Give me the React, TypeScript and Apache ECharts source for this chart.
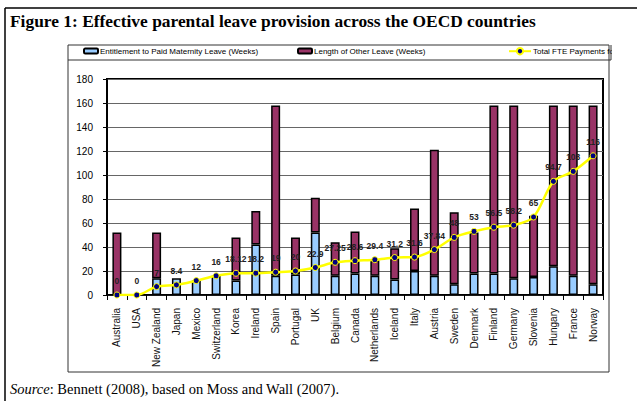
import React, { useEffect, useRef } from "react";
import * as echarts from "echarts";

const categories = [
  "Australia", "USA", "New Zealand", "Japan", "Mexico", "Switzerland", "Korea", "Ireland",
  "Spain", "Portugal", "UK", "Belgium", "Canada", "Netherlands", "Iceland", "Italy",
  "Austria", "Sweden", "Denmark", "Finland", "Germany", "Slovenia", "Hungary", "France", "Norway",
];
const maternityLeave = [0, 0, 14, 14, 12, 16, 12, 42, 16, 17, 52, 16, 18, 16, 13, 20, 16, 9, 18, 18, 14, 15, 24, 16, 9];
const otherLeave = [52, 0, 38, 0, 0, 0, 36, 28, 142, 31, 29, 28, 35, 13, 26, 52, 105, 60, 34, 140, 144, 51, 134, 142, 149];
const fteTotal = [0, 0, 7, 8.4, 12, 16, 18.12, 18.2, 19, 20, 22.9, 27.25, 28.6, 29.4, 31.2, 31.6, 37.84, 48, 53, 56.5, 58.2, 65, 94.7, 103, 116];

const seriesNames = [
  "Entitlement to Paid Maternity Leave (Weeks)",
  "Length of Other Leave (Weeks)",
  "Total FTE Payments for Leave (Weeks)",
];

const sans = 'Arial, "Liberation Sans", sans-serif';
const serif = '"Times New Roman", "Liberation Serif", serif';

export default function App() {
  const ref = useRef<HTMLDivElement>(null);
  useEffect(() => {
    if (!ref.current) return;
    const chart = echarts.init(ref.current, null, { renderer: "svg" });
    const noZero = (arr: number[]) => arr.map((v) => (v === 0 ? "-" : v));
    const legendBase = {
      orient: "horizontal",
      top: 47,
      padding: 0,
      itemGap: 4,
      selectedMode: false,
      textStyle: { fontSize: 8, color: "#000", fontFamily: sans, padding: [0, 0, 0, -3] },
    };
    chart.setOption({
      animation: false,
      backgroundColor: "#fff",
      graphic: [
        { type: "line", shape: { x1: 5, y1: 8, x2: 637, y2: 8 }, style: { stroke: "#000", lineWidth: 1.5 }, z: 1 },
        { type: "line", shape: { x1: 5, y1: 8, x2: 5, y2: 401 }, style: { stroke: "#000", lineWidth: 1.5 }, z: 1 },
        {
          type: "text", left: 10, top: 12,
          style: { text: "Figure 1: Effective parental leave provision across the OECD countries", font: `bold 17.4px ${serif}`, fill: "#000" },
        },
        { type: "rect", shape: { x: 68, y: 45, width: 541, height: 327 }, style: { fill: "none", stroke: "#333", lineWidth: 1 }, z: 1 },
        { type: "line", shape: { x1: 68, y1: 60, x2: 611, y2: 60 }, style: { stroke: "#333", lineWidth: 1 }, z: 1 },
        { type: "rect", shape: { x: 612, y: 43, width: 25, height: 18 }, style: { fill: "#fff" }, z: 100 },
        { type: "line", shape: { x1: 611, y1: 45, x2: 611, y2: 60 }, style: { stroke: "#333", lineWidth: 1 }, z: 101 },
        {
          type: "text", left: 10, top: 381,
          style: {
            text: "{i|Source}: Bennett (2008), based on Moss and Wall (2007).",
            font: `14.5px ${serif}`, fill: "#000",
            rich: { i: { fontStyle: "italic", fontSize: 14.5, fontFamily: serif, fill: "#000" } },
          },
        },
      ],
      legend: [
        { ...legendBase, left: 83, data: [seriesNames[0]], itemWidth: 14, itemHeight: 5 },
        { ...legendBase, left: 297, data: [seriesNames[1]], itemWidth: 14, itemHeight: 5 },
        { ...legendBase, left: 508, data: [seriesNames[2]], itemWidth: 22, itemHeight: 8 },
      ],
      grid: { left: 107, right: 34, top: 79, bottom: 106, show: true, borderColor: "#000", borderWidth: 2, backgroundColor: "transparent" },
      xAxis: {
        type: "category",
        data: categories,
        axisLine: { lineStyle: { color: "#000", width: 1.5 } },
        axisTick: { show: true, length: 5, lineStyle: { color: "#000" } },
        axisLabel: { rotate: 90, fontSize: 10, color: "#111", margin: 13, interval: 0, fontFamily: sans },
      },
      yAxis: {
        type: "value",
        min: 0,
        max: 180,
        interval: 20,
        axisLine: { show: true, lineStyle: { color: "#000", width: 1.5 } },
        axisTick: { show: true, length: 4, lineStyle: { color: "#000" } },
        axisLabel: { fontSize: 10, color: "#000", margin: 14, fontFamily: sans },
        splitLine: { lineStyle: { color: "#666", width: 1 } },
      },
      series: [
        {
          name: seriesNames[0], type: "bar", stack: "leave", barWidth: 9,
          data: noZero(maternityLeave),
          itemStyle: { color: "#99CCFF", borderColor: "#000", borderWidth: 1.5 },
        },
        {
          name: seriesNames[1], type: "bar", stack: "leave", barWidth: 9,
          data: noZero(otherLeave),
          itemStyle: { color: "#993366", borderColor: "#000", borderWidth: 1.5 },
        },
        {
          name: seriesNames[2], type: "line", data: fteTotal, smooth: 0.3, z: 5,
          symbol: "circle", symbolSize: 6,
          lineStyle: { color: "#FFFF00", width: 2.5 },
          itemStyle: { color: "#000080", borderColor: "#FFFF00", borderWidth: 1 },
          label: { show: true, position: "top", distance: 6, fontSize: 8.5, fontWeight: "bold", color: "#222", fontFamily: sans },
        },
      ],
    });
    return () => chart.dispose();
  }, []);
  return <div ref={ref} style={{ position: "fixed", left: 0, top: 0, width: 637, height: 401 }} />;
}
